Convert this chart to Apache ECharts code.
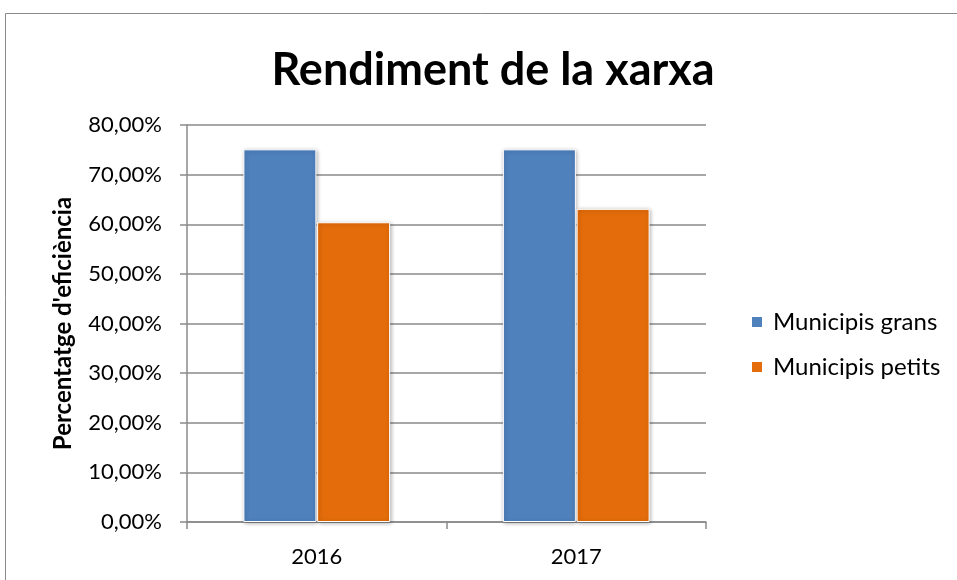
<!DOCTYPE html>
<html><head><meta charset="utf-8">
<script src="https://cdn.jsdelivr.net/npm/echarts@6/dist/echarts.min.js"></script>
<style>html,body{margin:0;padding:0;background:#fff}#c{width:957px;height:580px}</style>
</head><body><div id="c"></div>
<script>
const categories = ['2016', '2017'];
const seriesNames = ['Municipis grans', 'Municipis petits'];
const grans = [75.1, 75.1];
const petits = [60.4, 63.1];
const yTicks = [0, 10, 20, 30, 40, 50, 60, 70, 80];

const FONT = 'Lato';
const chart = echarts.init(document.getElementById('c'));
const fmt = v => v.toFixed(2).replace('.', ',') + '%';
const barStyle = (c) => ({color: c, borderColor: '#fff', borderWidth: 1, shadowBlur: 4, shadowColor: 'rgba(0,0,0,0.3)', shadowOffsetX: 1, shadowOffsetY: 1});
chart.setOption({
  animation: false,
  textStyle: {fontFamily: FONT},
  graphic: [{type: 'rect', shape: {x: 5.5, y: 13.5, width: 1000, height: 700}, style: {fill: 'none', stroke: '#8a8a8a', lineWidth: 1}}],
  title: {text: 'Rendiment de la xarxa', left: 488, top: 43, textAlign: 'center',
    textStyle: {fontFamily: FONT, fontWeight: 'bold', fontSize: 45, color: '#000'}},
  legend: {orient: 'vertical', left: 745, top: 305, itemWidth: 12, itemHeight: 12, itemGap: 21,
    icon: 'rect', textStyle: {fontFamily: FONT, fontSize: 24, color: '#000', padding: [0, 0, 0, 5]}, data: seriesNames},
  grid: {left: 187, right: 251, top: 125, bottom: 58, containLabel: false},
  xAxis: {type: 'category', data: categories,
    axisLine: {lineStyle: {color: '#8a8a8a', width: 1.5}},
    axisTick: {show: true, length: 7, lineStyle: {color: '#8a8a8a', width: 1.5}},
    axisLabel: {fontFamily: FONT, fontSize: 22, color: '#000', margin: 24}},
  yAxis: {type: 'value', min: yTicks[0], max: yTicks[yTicks.length - 1], interval: 10,
    name: "Percentatge d'eficiència", nameLocation: 'middle', nameGap: 112,
    nameTextStyle: {fontFamily: FONT, fontWeight: 'bold', fontSize: 24, color: '#000'},
    axisLine: {show: true, lineStyle: {color: '#8a8a8a', width: 1.5}},
    axisTick: {show: true, length: 7, lineStyle: {color: '#8a8a8a', width: 1.5}},
    splitLine: {lineStyle: {color: '#8a8a8a', width: 1.5}},
    axisLabel: {fontFamily: FONT, fontSize: 22, color: '#000', margin: 25, formatter: fmt}},
  series: [
    {name: seriesNames[0], type: 'bar', data: grans, barWidth: 73, barGap: '1%', itemStyle: barStyle('#4f81bd')},
    {name: seriesNames[1], type: 'bar', data: petits, barWidth: 73, barGap: '1%', itemStyle: barStyle('#e46c0a')}
  ]
});
</script></body></html>
